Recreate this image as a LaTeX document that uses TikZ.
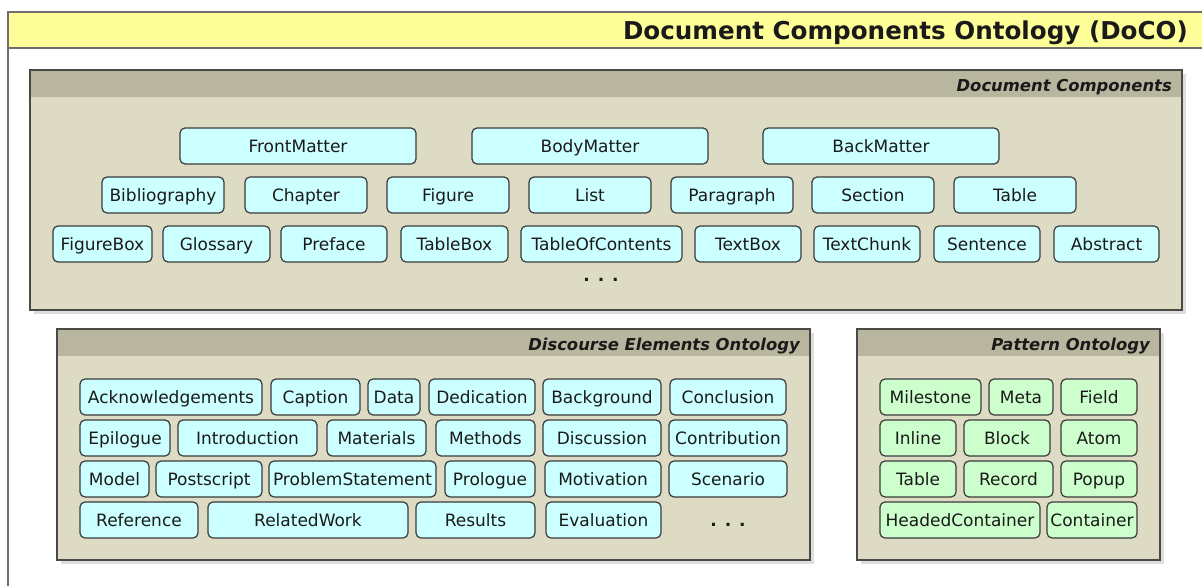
\documentclass[tikz,border=0pt]{standalone}
\usepackage{fontspec}
\setmainfont{DejaVu Sans}
\definecolor{yel}{HTML}{FFFF99}
\definecolor{pbody}{HTML}{DEDBC4}
\definecolor{phead}{HTML}{B8B69E}
\definecolor{pbord}{HTML}{4A4A44}
\definecolor{cy}{HTML}{CCFFFF}
\definecolor{gr}{HTML}{CCFFCC}
\definecolor{bdr}{HTML}{3A3A3A}
\definecolor{txt}{HTML}{1A1A1A}
\definecolor{frm}{HTML}{6E6E6E}
\newcommand\nb[6]{\node[#1, minimum width={(#4-#3)*1pt}] (#2) at ({(#3+#4)/2},#5) {#6};}
\newcommand\panelbox[6]{%
  \fill[black, opacity=0.13] (#2+4,#3+4) rectangle (#4+4,#5+4);
  \fill[pbody] (#2,#3) rectangle (#4,#5);
  \fill[phead] (#2,#3) rectangle (#4,#3+26.5);
  \draw[pbord, line width=1.4pt] (#2,#3) rectangle (#4,#5);
  \node[ptitle, anchor=base east] (#1) at (#4-10,#3+21.5) {#6};}
\begin{document}
\begin{tikzpicture}[x=1pt,y=-1pt,
  cbox/.style={draw=bdr, fill=cy, rounded corners=5pt, line width=1.2pt,
    minimum height=36pt, inner xsep=0pt, inner ysep=0pt, text height=14.5pt, text depth=1.5pt,
    font=\fontsize{17}{20}\selectfont, text=txt},
  gbox/.style={cbox, fill=gr},
  ptitle/.style={font=\fontsize{16.4}{19}\selectfont\bfseries\itshape, text=txt, inner sep=0pt},
  dots/.style={font=\fontsize{17}{20}\selectfont\bfseries, text=txt, inner sep=0pt}]
\useasboundingbox (0,0) rectangle (1202,586);
\clip (0,0) rectangle (1202,586);
% outer frame
\fill[white] (0,0) rectangle (1202,586);
\draw[frm, line width=1.5pt] (8,12) rectangle (1240,640);
\fill[yel] (8,12) rectangle (1240,48);
\draw[frm, line width=1.5pt] (8,12) rectangle (1240,48);
\node[font=\fontsize{24.6}{28}\selectfont\bfseries, text=txt, anchor=base east, inner sep=0pt] (title) at (1188,39.5) {Document Components Ontology (DoCO)};
% Document Components panel
\panelbox{dctitle}{30}{70}{1182}{310}{Document Components}
\nb{cbox}{frontmatter}{180}{416}{146}{FrontMatter}
\nb{cbox}{bodymatter}{472}{708}{146}{BodyMatter}
\nb{cbox}{backmatter}{763}{999}{146}{BackMatter}
\nb{cbox}{bibliography}{102}{224}{195}{Bibliography}
\nb{cbox}{chapter}{245}{367}{195}{Chapter}
\nb{cbox}{figure}{387}{509}{195}{Figure}
\nb{cbox}{list}{529}{651}{195}{List}
\nb{cbox}{paragraph}{671}{793}{195}{Paragraph}
\nb{cbox}{section}{812}{934}{195}{Section}
\nb{cbox}{table}{954}{1076}{195}{Table}
\nb{cbox}{figurebox}{53}{152}{244}{FigureBox}
\nb{cbox}{glossary}{163}{270}{244}{Glossary}
\nb{cbox}{preface}{281}{387}{244}{Preface}
\nb{cbox}{tablebox}{401}{508}{244}{TableBox}
\nb{cbox}{toc}{521}{682}{244}{TableOfContents}
\nb{cbox}{textbox}{695}{801}{244}{TextBox}
\nb{cbox}{textchunk}{814}{920}{244}{TextChunk}
\nb{cbox}{sentence}{934}{1040}{244}{Sentence}
\nb{cbox}{abstract}{1054}{1159}{244}{Abstract}
\node[dots, anchor=base] (dcdots) at (601,281) {.\hspace{8pt}.\hspace{8pt}.};
% Discourse Elements Ontology panel
\panelbox{deotitle}{57}{329}{810}{560}{Discourse Elements Ontology}
\nb{cbox}{ack}{80}{262}{397}{Acknowledgements}
\nb{cbox}{caption}{271}{360}{397}{Caption}
\nb{cbox}{data}{368}{420}{397}{Data}
\nb{cbox}{dedication}{429}{535}{397}{Dedication}
\nb{cbox}{background}{543}{661}{397}{Background}
\nb{cbox}{conclusion}{670}{786}{397}{Conclusion}
\nb{cbox}{epilogue}{80}{170}{438}{Epilogue}
\nb{cbox}{introduction}{178}{317}{438}{Introduction}
\nb{cbox}{materials}{327}{426}{438}{Materials}
\nb{cbox}{methods}{436}{535}{438}{Methods}
\nb{cbox}{discussion}{543}{661}{438}{Discussion}
\nb{cbox}{contribution}{669}{787}{438}{Contribution}
\nb{cbox}{model}{80}{149}{479}{Model}
\nb{cbox}{postscript}{156}{262}{479}{Postscript}
\nb{cbox}{problem}{269}{436}{479}{ProblemStatement}
\nb{cbox}{prologue}{445}{535}{479}{Prologue}
\nb{cbox}{motivation}{545}{661}{479}{Motivation}
\nb{cbox}{scenario}{669}{787}{479}{Scenario}
\nb{cbox}{reference}{80}{198}{520}{Reference}
\nb{cbox}{relatedwork}{208}{408}{520}{RelatedWork}
\nb{cbox}{results}{416}{535}{520}{Results}
\nb{cbox}{evaluation}{546}{661}{520}{Evaluation}
\node[dots, anchor=base] (deodots) at (728,526) {.\hspace{8pt}.\hspace{8pt}.};
% Pattern Ontology panel
\panelbox{potitle}{857}{329}{1160}{560}{Pattern Ontology}
\nb{gbox}{milestone}{880}{981}{397}{Milestone}
\nb{gbox}{meta}{989}{1053}{397}{Meta}
\nb{gbox}{field}{1061}{1137}{397}{Field}
\nb{gbox}{inline}{880}{956}{438}{Inline}
\nb{gbox}{block}{964}{1050}{438}{Block}
\nb{gbox}{atom}{1061}{1137}{438}{Atom}
\nb{gbox}{ptable}{880}{956}{479}{Table}
\nb{gbox}{record}{964}{1053}{479}{Record}
\nb{gbox}{popup}{1061}{1137}{479}{Popup}
\nb{gbox}{headed}{880}{1040}{520}{HeadedContainer}
\nb{gbox}{container}{1047}{1137}{520}{Container}
\end{tikzpicture}
\end{document}
